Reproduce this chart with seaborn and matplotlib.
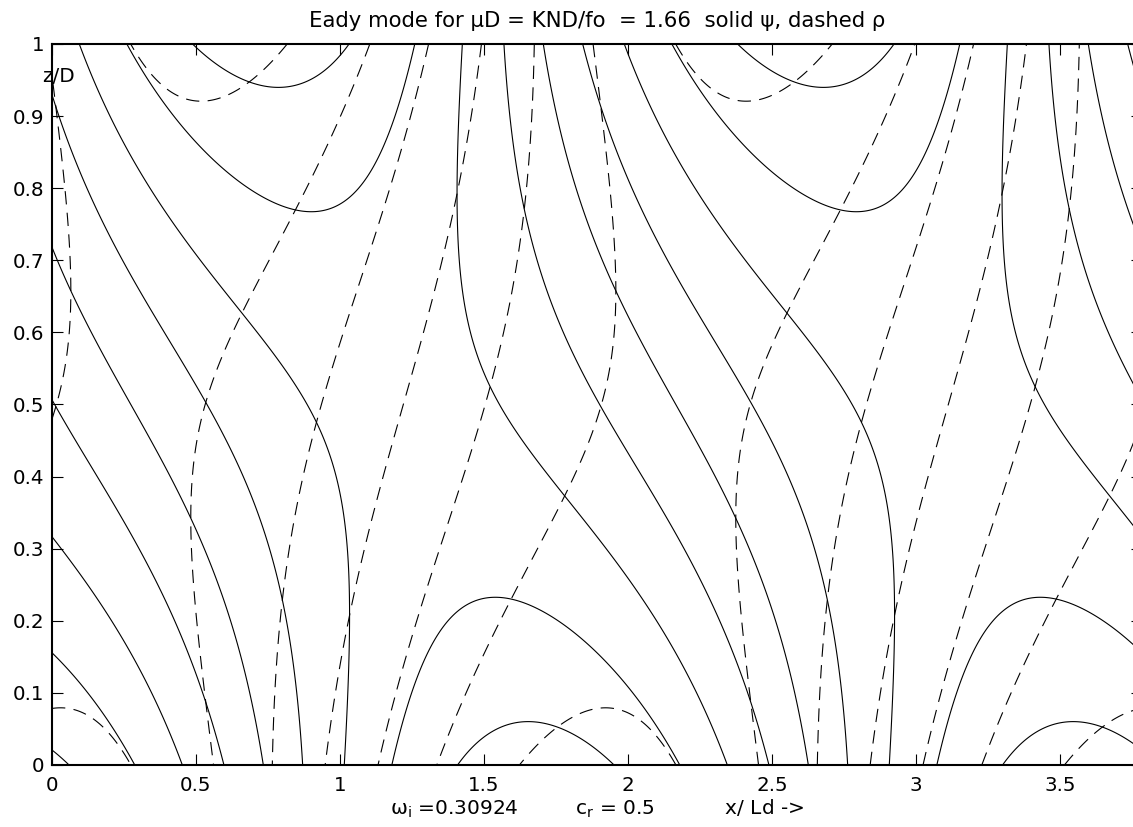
import numpy as np
import matplotlib
matplotlib.use("Agg")
import matplotlib.pyplot as plt
import seaborn as sns

# Eady problem, values as printed on the figure
mu = 1.66            # mu D = K N D / fo
omega_i = 0.30924    # growth rate
c_r = 0.5            # real phase speed
x_shift = 1.68       # x/Ld of the surface psi extreme

# contour levels as fractions of each field's maximum
psi_frac = [-0.9, -0.675, -0.45, -0.225, 0.0, 0.225, 0.45, 0.675, 0.9]
rho_frac = [-0.9, -0.6, -0.3, 0.0, 0.3, 0.6, 0.9]

x_ticks = [0, 0.5, 1, 1.5, 2, 2.5, 3, 3.5]
x_tick_labels = ["0", "0.5", "1", "1.5", "2", "2.5", "3", "3.5"]
z_ticks = [0, 0.1, 0.2, 0.3, 0.4, 0.5, 0.6, 0.7, 0.8, 0.9, 1]
z_tick_labels = ["0", "0.1", "0.2", "0.3", "0.4", "0.5", "0.6", "0.7", "0.8", "0.9", "1"]


def eady_fields():
    c = c_r + 1j * omega_i / mu
    x = np.linspace(0, 2 * np.pi / mu, 700)
    z = np.linspace(0, 1, 350)
    X, Z = np.meshgrid(x, z)
    phi = np.cosh(mu * Z) - np.sinh(mu * Z) / (c * mu)
    dphi = mu * np.sinh(mu * Z) - np.cosh(mu * Z) / c
    wave = np.exp(1j * mu * (X - x_shift))
    psi = np.real(phi * wave)
    rho = -np.real(dphi * wave)
    return x, z, psi, rho


def main():
    sns.set_theme(style="ticks", rc={"text.color": "black",
                                     "axes.labelcolor": "black",
                                     "xtick.color": "black",
                                     "ytick.color": "black"})
    plt.rcParams["font.family"] = ["DejaVu Sans"]
    plt.rcParams["mathtext.fontset"] = "custom"
    plt.rcParams["mathtext.rm"] = "DejaVu Sans"

    x, z, psi, rho = eady_fields()

    fig = plt.figure(figsize=(11.33, 8.27), dpi=100)
    ax = fig.add_axes([0.0459, 0.07497, 0.96205, 0.87183])

    psi_levels = np.array(psi_frac) * np.abs(psi).max()
    rho_levels = np.array(rho_frac) * np.abs(rho).max()

    ax.contour(x, z, psi, levels=psi_levels, colors="black",
               linewidths=0.8, linestyles="solid")
    ax.contour(x, z, rho, levels=rho_levels, colors="black",
               linewidths=0.8, linestyles=[(0, (12, 7.5))])

    ax.set_xlim(0, 2 * np.pi / mu)
    ax.set_ylim(0, 1)
    ax.set_xticks(x_ticks)
    ax.set_xticklabels(x_tick_labels)
    ax.set_yticks(z_ticks)
    ax.set_yticklabels(z_tick_labels)
    ax.tick_params(axis="both", direction="in", length=8, width=0.8,
                   labelsize=14.3, colors="black", top=True, right=True)
    ax.tick_params(axis="x", pad=8)
    ax.tick_params(axis="y", pad=5.5)
    for s in ax.spines.values():
        s.set_linewidth(1.5)
        s.set_color("black")
    ax.grid(False)

    ax.set_title(r"Eady mode for μD = KND/fo  = 1.66  solid ψ, dashed ρ",
                 fontsize=15.3, pad=12, color="black")
    ax.set_xlabel(r"$\mathrm{\omega_i}$ =0.30924         $\mathrm{c_r}$ = 0.5           x/ Ld ->",
                  fontsize=14.5, labelpad=2, color="black")
    fig.text(42 / 1133, (827 - 82) / 827, "z/D", fontsize=14.3,
             ha="left", va="baseline", color="black")

    fig.savefig("out.png", dpi=100, facecolor="white")
    plt.close(fig)


if __name__ == "__main__":
    main()
